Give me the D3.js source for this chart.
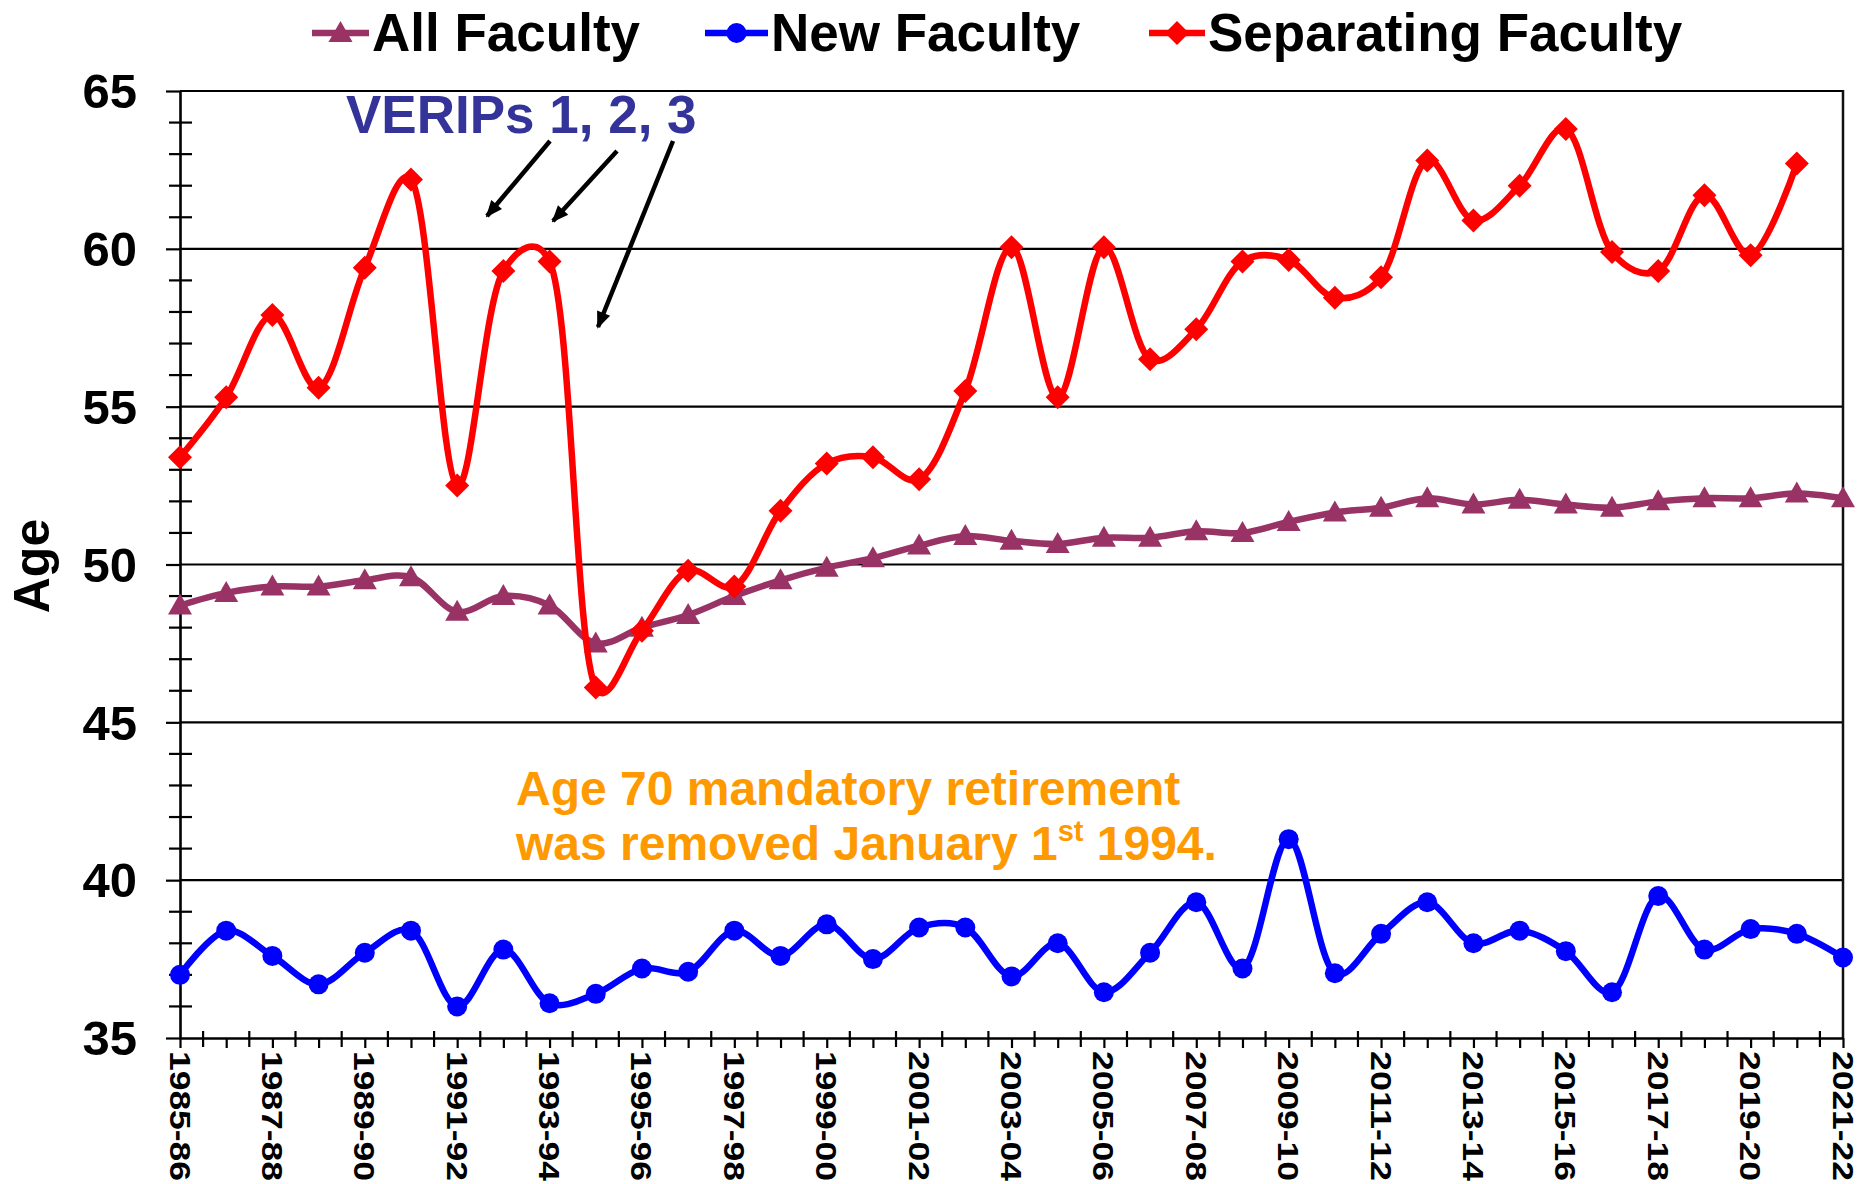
<!DOCTYPE html>
<html>
<head>
<meta charset="utf-8">
<script src="https://cdn.jsdelivr.net/npm/d3@7"></script>
<style>
  body { margin: 0; background: #fff; }
  svg { display: block; }
  text { font-family: "Liberation Sans", Arial, sans-serif; font-weight: bold; }
</style>
</head>
<body>
<svg id="chart" width="1867" height="1184"></svg>
<script>
// Academic years on the horizontal axis
const years = [
  "1985-86","1986-87","1987-88","1988-89","1989-90","1990-91","1991-92","1992-93",
  "1993-94","1994-95","1995-96","1996-97","1997-98","1998-99","1999-00","2000-01",
  "2001-02","2002-03","2003-04","2004-05","2005-06","2006-07","2007-08","2008-09",
  "2009-10","2010-11","2011-12","2012-13","2013-14","2014-15","2015-16","2016-17",
  "2017-18","2018-19","2019-20","2020-21","2021-22"
];

// Average age of all faculty
const allFaculty = [
  48.7, 49.1, 49.3, 49.3, 49.5, 49.6, 48.5, 49.0, 48.7, 47.5,
  48.0, 48.4, 49.0, 49.5, 49.9, 50.2, 50.6, 50.9, 50.75, 50.65,
  50.85, 50.85, 51.05, 51.0, 51.35, 51.65, 51.8, 52.1, 51.9, 52.05,
  51.9, 51.8, 52.0, 52.1, 52.1, 52.25, 52.1
];

// Average age of newly hired faculty
const newFaculty = [
  37.0, 38.4, 37.6, 36.7, 37.7, 38.4, 36.0, 37.8, 36.1, 36.4,
  37.2, 37.1, 38.4, 37.6, 38.6, 37.5, 38.5, 38.5, 36.95, 38.0,
  36.45, 37.7, 39.3, 37.2, 41.3, 37.05, 38.3, 39.3, 38.0, 38.4,
  37.75, 36.45, 39.5, 37.8, 38.45, 38.3, 37.55
];

// Average age of separating faculty (no value yet for the last year)
const separatingFaculty = [
  53.4, 55.3, 57.9, 55.6, 59.4, 62.2, 52.5, 59.3, 59.6, 46.1,
  47.9, 49.8, 49.3, 51.7, 53.2, 53.4, 52.7, 55.5, 60.05, 55.3,
  60.05, 56.5, 57.45, 59.6, 59.65, 58.45, 59.1, 62.8, 60.9, 62.0,
  63.8, 59.9, 59.3, 61.7, 59.8, 62.7
];

const yTicks = [35, 40, 45, 50, 55, 60, 65];
const seriesNames = ["All Faculty", "New Faculty", "Separating Faculty"];
const seriesColors = ["#993366", "#0000FF", "#FF0000"];

const svg = d3.select("#chart");
const plot = { left: 180, right: 1843, top: 91, bottom: 1038 };

const x = d3.scalePoint().domain(years).range([plot.left, plot.right]).padding(0);
const y = d3.scaleLinear().domain([35, 65]).range([plot.bottom, plot.top]);

// Horizontal gridlines (the 65 line doubles as the top frame)
svg.append("g")
  .selectAll("line")
  .data(yTicks.filter(d => d > 35))
  .join("line")
  .attr("x1", plot.left).attr("x2", plot.right)
  .attr("y1", d => y(d)).attr("y2", d => y(d))
  .attr("stroke", "#000").attr("stroke-width", 2.2);

// Right frame
svg.append("line")
  .attr("x1", plot.right).attr("x2", plot.right)
  .attr("y1", plot.top - 1).attr("y2", plot.bottom)
  .attr("stroke", "#111").attr("stroke-width", 2.5);

// Y axis with minor ticks every year of age
const yMinor = d3.range(36, 65).filter(d => d % 5 !== 0);
svg.append("g")
  .selectAll("line")
  .data(yMinor)
  .join("line")
  .attr("x1", plot.left - 11).attr("x2", plot.left + 12)
  .attr("y1", d => y(d)).attr("y2", d => y(d))
  .attr("stroke", "#000").attr("stroke-width", 2.2);

const yAxis = svg.append("g")
  .attr("transform", `translate(${plot.left},0)`)
  .call(d3.axisLeft(y).tickValues(yTicks).tickSize(14).tickSizeOuter(0)
        .tickPadding(29).tickFormat(d3.format("d")));
yAxis.select(".domain").attr("stroke", "#000").attr("stroke-width", 2.6);
yAxis.selectAll(".tick line").attr("stroke", "#000").attr("stroke-width", 2.2);
yAxis.selectAll(".tick text")
  .attr("font-size", 49).attr("fill", "#000").attr("dy", "0.34em")
  .style("font-family", '"Liberation Sans", Arial, sans-serif').style("font-weight", "bold");

// X axis: outward ticks on each year, crossing ticks between years
const step = x.step();
const xAxis = svg.append("g")
  .attr("transform", `translate(0,${plot.bottom})`)
  .call(d3.axisBottom(x).tickSize(10).tickSizeOuter(0).tickFormat(""));
xAxis.select(".domain").attr("stroke", "#000").attr("stroke-width", 2.6);
xAxis.selectAll(".tick line").attr("stroke", "#000").attr("stroke-width", 2.2);

svg.append("g")
  .selectAll("line")
  .data(years.slice(0, -1))
  .join("line")
  .attr("x1", d => x(d) + step / 2).attr("x2", d => x(d) + step / 2)
  .attr("y1", plot.bottom - 7).attr("y2", plot.bottom + 9)
  .attr("stroke", "#000").attr("stroke-width", 2.2);

// Vertical year labels on every other year
svg.append("g")
  .selectAll("text")
  .data(years.filter((d, i) => i % 2 === 0))
  .join("text")
  .attr("transform", d => `translate(${x(d)},${plot.bottom + 13}) rotate(90)`)
  .attr("text-anchor", "start")
  .attr("dy", "0.36em")
  .attr("font-size", 29)
  .attr("textLength", 130)
  .attr("lengthAdjust", "spacingAndGlyphs")
  .attr("fill", "#000")
  .text(d => d);

// Axis title
svg.append("text")
  .attr("transform", "translate(49,566) rotate(-90)")
  .attr("text-anchor", "middle")
  .attr("font-size", 50)
  .attr("fill", "#000")
  .text("Age");

// Marker shapes
const markerPath = {
  triangle: "M0,-12 L12,9 L-12,9 Z",
  circle: d3.symbol().type(d3.symbolCircle).size(Math.PI * 10 * 10)(),
  diamond: "M0,-12 L12,0 L0,12 L-12,0 Z"
};

const smooth = d3.line()
  .x(d => x(d.year))
  .y(d => y(d.value))
  .curve(d3.curveCatmullRom.alpha(0.25));

const series = [
  { values: allFaculty, color: seriesColors[0], marker: markerPath.triangle },
  { values: newFaculty, color: seriesColors[1], marker: markerPath.circle },
  { values: separatingFaculty, color: seriesColors[2], marker: markerPath.diamond }
];

series.forEach(s => {
  const pts = s.values.map((v, i) => ({ year: years[i], value: v }));
  const g = svg.append("g");
  g.append("path")
    .attr("d", smooth(pts))
    .attr("fill", "none")
    .attr("stroke", s.color)
    .attr("stroke-width", 6.5)
    .attr("stroke-linejoin", "round");
  g.selectAll("path.mark")
    .data(pts)
    .join("path")
    .attr("class", "mark")
    .attr("d", s.marker)
    .attr("transform", d => `translate(${x(d.year)},${y(d.value)})`)
    .attr("fill", s.color);
});

// Legend
const legendItems = [
  { name: seriesNames[0], color: seriesColors[0], marker: markerPath.triangle, x0: 312, x1: 369, tx: 372 },
  { name: seriesNames[1], color: seriesColors[1], marker: markerPath.circle, x0: 705, x1: 768, tx: 771 },
  { name: seriesNames[2], color: seriesColors[2], marker: markerPath.diamond, x0: 1149, x1: 1205, tx: 1208 }
];
const legendY = 33;
const lg = svg.append("g").selectAll("g").data(legendItems).join("g");
lg.append("line")
  .attr("x1", d => d.x0).attr("x2", d => d.x1)
  .attr("y1", legendY).attr("y2", legendY)
  .attr("stroke", d => d.color).attr("stroke-width", 6.5);
lg.append("path")
  .attr("d", d => d.marker)
  .attr("transform", d => `translate(${(d.x0 + d.x1) / 2},${legendY})`)
  .attr("fill", d => d.color);
lg.append("text")
  .attr("x", d => d.tx).attr("y", 51)
  .attr("font-size", 53)
  .attr("fill", "#000")
  .text(d => d.name);

// VERIP annotation with arrows
const defs = svg.append("defs");
defs.append("marker")
  .attr("id", "arrowhead")
  .attr("viewBox", "-16 -8 18 16")
  .attr("refX", 0).attr("refY", 0)
  .attr("markerWidth", 18).attr("markerHeight", 16)
  .attr("markerUnits", "userSpaceOnUse")
  .attr("orient", "auto")
  .append("path")
  .attr("d", "M2,0 L-15,-7 L-15,7 Z")
  .attr("fill", "#000");

svg.append("text")
  .attr("x", 346).attr("y", 133)
  .attr("font-size", 53)
  .attr("fill", "#333399")
  .text("VERIPs 1, 2, 3");

const arrows = [
  [[550, 141], [487, 216]],
  [[617, 151], [553, 221]],
  [[673, 141], [598, 327]]
];
svg.append("g")
  .selectAll("line")
  .data(arrows)
  .join("line")
  .attr("x1", d => d[0][0]).attr("y1", d => d[0][1])
  .attr("x2", d => d[1][0]).attr("y2", d => d[1][1])
  .attr("stroke", "#000").attr("stroke-width", 4.5)
  .attr("marker-end", "url(#arrowhead)");

// Mandatory retirement note
const note = svg.append("text")
  .attr("x", 516).attr("y", 805)
  .attr("font-size", 48)
  .attr("fill", "#FF9900");
note.append("tspan").attr("x", 516).attr("y", 805).text("Age 70 mandatory retirement");
note.append("tspan").attr("x", 516).attr("y", 860).text("was removed January 1");
note.append("tspan").attr("font-size", 29).attr("dy", -19).text("st");
note.append("tspan").attr("dy", 19).text(" 1994.");
</script>
</body>
</html>
